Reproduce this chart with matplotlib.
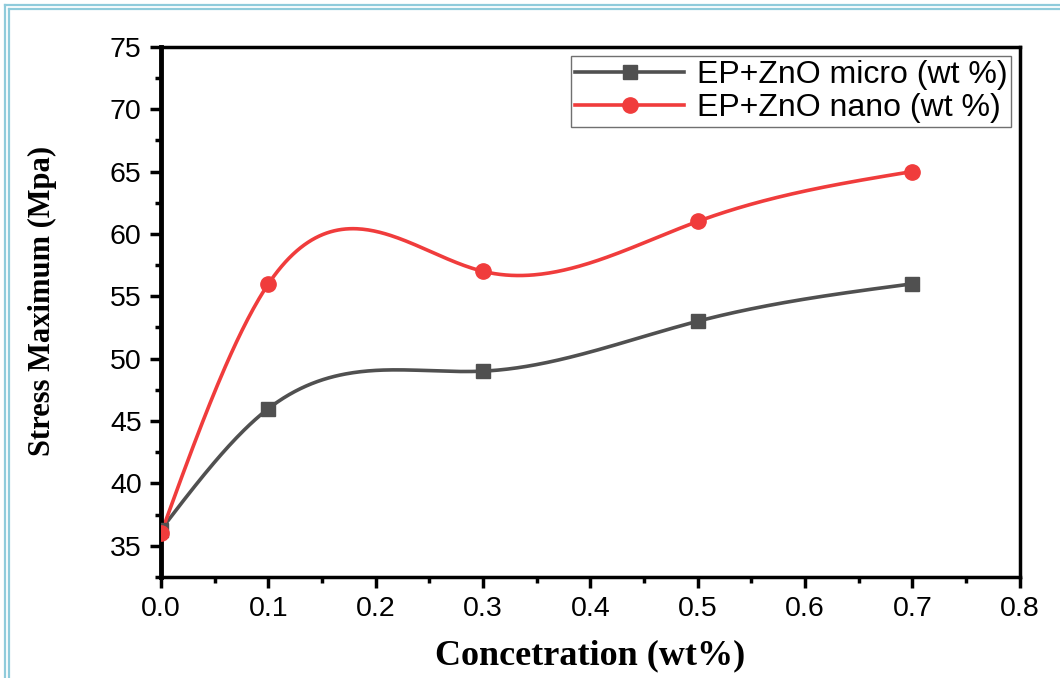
import numpy as np
import matplotlib.pyplot as plt
from matplotlib.lines import Line2D
from matplotlib.ticker import MultipleLocator, FormatStrFormatter

plt.rcParams['font.family'] = 'Liberation Sans'

# data
conc = [0.0, 0.1, 0.3, 0.5, 0.7]
stress_micro = [36.3, 46, 49, 53, 56]
stress_nano = [36.0, 56, 57, 61, 65]


def natural_spline(x, y, xs):
    x = np.asarray(x, float)
    y = np.asarray(y, float)
    n = len(x)
    h = np.diff(x)
    A = np.zeros((n, n))
    r = np.zeros(n)
    A[0, 0] = A[-1, -1] = 1
    for i in range(1, n - 1):
        A[i, i - 1] = h[i - 1]
        A[i, i] = 2 * (h[i - 1] + h[i])
        A[i, i + 1] = h[i]
        r[i] = 3 * ((y[i + 1] - y[i]) / h[i] - (y[i] - y[i - 1]) / h[i - 1])
    c = np.linalg.solve(A, r)
    b = (y[1:] - y[:-1]) / h - h * (2 * c[:-1] + c[1:]) / 3
    d = (c[1:] - c[:-1]) / (3 * h)
    idx = np.clip(np.searchsorted(x, xs, side='right') - 1, 0, n - 2)
    dx = xs - x[idx]
    return y[idx] + b[idx] * dx + c[idx] * dx**2 + d[idx] * dx**3


gray = '#505050'
red = '#f03c3c'

fig = plt.figure(figsize=(10.6, 6.78), dpi=100)
ax = fig.add_axes([0.152, 0.149, 0.810, 0.782])

xs = np.linspace(conc[0], conc[-1], 400)
ax.plot(xs, natural_spline(conc, stress_micro, xs), color=gray, lw=2.6, zorder=2)
ax.plot(conc, stress_micro, 's', color=gray, ms=10, zorder=3)
ax.plot(xs, natural_spline(conc, stress_nano, xs), color=red, lw=2.6, zorder=2)
ax.plot(conc, stress_nano, 'o', color=red, ms=11, zorder=4)

ax.set_xlim(0, 0.8)
ax.set_ylim(32.5, 75)
ax.xaxis.set_major_locator(MultipleLocator(0.1))
ax.xaxis.set_minor_locator(MultipleLocator(0.05))
ax.xaxis.set_major_formatter(FormatStrFormatter('%.1f'))
ax.yaxis.set_major_locator(MultipleLocator(5))
ax.yaxis.set_minor_locator(MultipleLocator(2.5))
ax.tick_params(which='major', direction='out', width=2.5, length=8, pad=6,
               labelsize=20.5, top=False, right=False)
ax.tick_params(which='minor', direction='out', width=2.5, length=4,
               top=False, right=False)
for s in ax.spines.values():
    s.set_linewidth(2.5)
ax.spines['left'].set_linewidth(3.5)

ax.set_xlabel('Concetration (wt%)', family='Liberation Serif', fontweight='bold',
              fontsize=26, labelpad=12)
ax.set_ylabel('Stress Maximum (Mpa)', family='Liberation Serif', fontweight='bold',
              fontsize=22)
ax.yaxis.set_label_coords(-0.121, 0.52)

handles = [Line2D([], [], color=gray, lw=2.6, marker='s', ms=10),
           Line2D([], [], color=red, lw=2.6, marker='o', ms=11)]
leg = ax.legend(handles, ['EP+ZnO micro (wt %)', 'EP+ZnO nano (wt %)'],
                loc='upper right', bbox_to_anchor=(0.99, 0.982),
                prop={'family': 'Liberation Sans', 'size': 23},
                fancybox=False, framealpha=1, edgecolor='#707070',
                handlelength=3.4, handletextpad=0.4, borderpad=0.12,
                labelspacing=0.08, borderaxespad=0)
leg.get_frame().set_linewidth(1.0)

# light blue page border (top and left)
bc = '#8fcbdb'
for px in (5, 9):
    fig.add_artist(Line2D([px / 1060, px / 1060], [0, 1 - px / 678],
                          transform=fig.transFigure, color=bc, lw=1.6))
    fig.add_artist(Line2D([px / 1060, 1], [1 - px / 678, 1 - px / 678],
                          transform=fig.transFigure, color=bc, lw=1.6))

fig.savefig('out.png', dpi=100, facecolor='white')
